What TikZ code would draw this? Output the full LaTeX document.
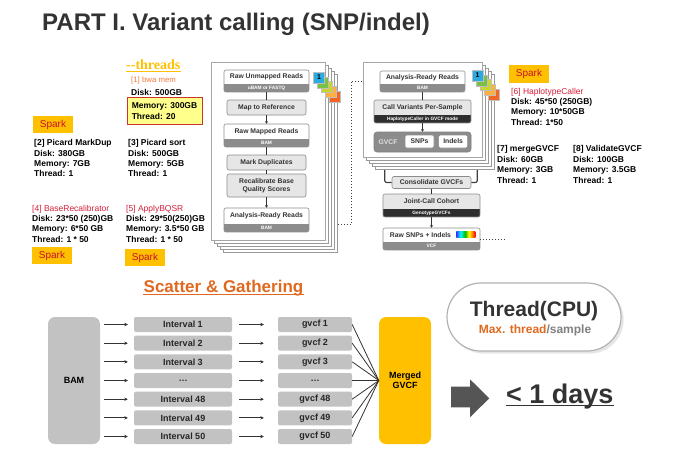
\documentclass[tikz,border=0pt]{standalone}
\usepackage{fontspec}
\setmainfont{Liberation Sans}
\newfontfamily\threadfont{Liberation Serif}
\usepackage{xcolor}
\usepackage{tikz}
\usetikzlibrary{arrows.meta,shapes,backgrounds,fit,positioning,shadows}

\definecolor{sparkbg}{HTML}{FFC000}
\definecolor{sparkred}{HTML}{C8102E}
\definecolor{titlegray}{HTML}{333333}
\definecolor{bwaorange}{HTML}{F4793B}
\definecolor{hdred}{HTML}{D41F3A}
\definecolor{memyellow}{HTML}{FFFF8C}
\definecolor{memred}{HTML}{C8382A}
\definecolor{boxgray}{HTML}{E6E6E6}
\definecolor{bandgray}{HTML}{8C8C8C}
\definecolor{banddark}{HTML}{2E2E2E}
\definecolor{rowgray}{HTML}{C2C2C2}
\definecolor{scatterorange}{HTML}{E0691F}
\definecolor{arrowgray}{HTML}{555555}
\definecolor{badgeblue}{HTML}{29ABE2}
\definecolor{badgegreen}{HTML}{7AC143}
\definecolor{badgelime}{HTML}{C9D42E}
\definecolor{badgeyellow}{HTML}{FBB040}
\definecolor{badgeorange}{HTML}{F26522}

\newcommand{\fsz}[2]{\fontsize{#1}{#2}\selectfont}

\pgfdeclarehorizontalshading{rainbow}{100bp}{color(0bp)=(blue); color(25bp)=(blue!80); color(36bp)=(cyan); color(48bp)=(green!70!black); color(58bp)=(yellow); color(67bp)=(orange); color(75bp)=(red); color(100bp)=(red)}

% box with a title on top and a coloured band below
\newcommand{\readsbox}[8][white]{%
  \node[flow, fill=#1, minimum width=#4, minimum height=#5,
        path picture={\fill[#8, sharp corners] (path picture bounding box.south west)
          rectangle ([yshift=8pt]path picture bounding box.south east);}] (#2) at (#3) {};
  \node[flowtext, anchor=north, minimum height={#5-8}] (#2-t) at (#2.north) {#6};
  \node[bandtext] (#2-b) at ([yshift=4pt]#2.south) {#7};
}

\begin{document}
\begin{tikzpicture}[x=1pt,y=-1pt]
	\tikzstyle{info}=[anchor=north west, inner sep=0, align=left, font=\bfseries\fsz{8.5}{10.3}]
	\tikzstyle{spark}=[fill=sparkbg, text=sparkred, font=\fsz{10}{12}, minimum width=40, minimum height=17, inner sep=0]
	\tikzstyle{page}=[draw=black!35, fill=white, line width=0.5pt, inner sep=0]
	\tikzstyle{pageback}=[draw=black!40, fill=white, line width=0.5pt]
	\tikzstyle{badge}=[draw=black!25, line width=0.3pt, minimum size=11, inner sep=0, font=\bfseries\fsz{7}{8}]
	\tikzstyle{flow}=[draw=black!45, line width=0.6pt, rounded corners=2pt, inner sep=0]
	\tikzstyle{flowtext}=[inner sep=0, text=black!80, font=\bfseries\fsz{6.8}{8}, align=center]
	\tikzstyle{flowgray}=[flow, fill=boxgray, text=black!80, font=\bfseries\fsz{6.8}{8}, align=center, minimum width=79]
	\tikzstyle{bandtext}=[inner sep=0, text=white, font=\bfseries\fsz{4.8}{5}]
	\tikzstyle{link}=[draw=black!80, line width=0.7pt]
	\tikzstyle{linkarrow}=[link, -{Stealth[length=2.5pt,width=3pt]}]
	\tikzstyle{dotline}=[draw=black!75, line width=0.9pt, dotted]
	\tikzstyle{bracket}=[draw=black!75, line width=1.2pt, rounded corners=2pt]
	\tikzstyle{row}=[fill=rowgray, rounded corners=2pt, minimum height=15, inner sep=0, font=\bfseries\fsz{9}{10}, text=black!85]
	\tikzstyle{bigbox}=[rounded corners=7pt, minimum width=52, minimum height=127, inner sep=0, font=\bfseries\fsz{9}{10.5}, align=center]
	\tikzstyle{rowarrow}=[draw=black!80, line width=0.9pt, -{Stealth[length=3.5pt,width=3.5pt]}]
	\tikzstyle{gather}=[draw=black!80, line width=0.8pt]

	\useasboundingbox (0,0) rectangle (692,458);

	\node[font=\bfseries\fsz{24}{28}, text=titlegray, anchor=base, inner sep=0] (title) at (236,30) {PART I. Variant calling (SNP/indel)};

	% resources per step
	\node[anchor=base west, inner sep=0, font=\threadfont\bfseries\fsz{14}{16}, text=sparkbg] (thr) at (126,69) {--threads};
	\draw[sparkbg, line width=1pt] ([yshift=-2.5pt]thr.base west) -- ([yshift=-2.5pt]thr.base east);
	\node[info, font=\fsz{7.8}{9}, text=bwaorange] (bwa) at (131,76.6) {[1] bwa mem};
	\node[info] (bwad) at (131,89.5) {Disk: 500GB};
	\node[info, anchor=center, draw=memred, line width=1pt, fill=memyellow, minimum width=75, minimum height=26.6, font=\bfseries\fsz{8.5}{10.6}] (mem1) at (164.5,111) {Memory: 300GB\\Thread: 20};

	\node[spark] (s2) at (53,124.5) {Spark};
	\node[info] (mdup) at (34,139.5) {[2] Picard MarkDup\\Disk: 380GB\\Memory: 7GB\\Thread: 1};
	\node[info] (sort) at (128,139.5) {[3] Picard sort\\Disk: 500GB\\Memory: 5GB\\Thread: 1};
	\node[info] (brc) at (32,204.8) {{\mdseries\color{hdred}[4] BaseRecalibrator}\\Disk: 23*50 (250)GB\\Memory: 6*50 GB\\Thread: 1 * 50};
	\node[info] (abq) at (126,204.8) {{\mdseries\color{hdred}[5] ApplyBQSR}\\Disk: 29*50(250)GB\\Memory: 3.5*50 GB\\Thread: 1 * 50};
	\node[spark] (s4) at (52,255.5) {Spark};
	\node[spark] (s5) at (145,257.5) {Spark};

	\node[spark, minimum height=18] (s6) at (529,74) {Spark};
	\node[info] (hc) at (511,87.8) {{\mdseries\color{hdred}[6] HaplotypeCaller}\\Disk: 45*50 (250GB)\\Memory: 10*50GB\\Thread: 1*50};
	\node[info, font=\bfseries\fsz{8.5}{10.5}] (mgv) at (497,145.5) {[7] mergeGVCF\\Disk: 60GB\\Memory: 3GB\\Thread: 1};
	\node[info, font=\bfseries\fsz{8.5}{10.5}] (vgv) at (573,145.5) {[8] ValidateGVCF\\Disk: 100GB\\Memory: 3.5GB\\Thread: 1};

	% pre-processing panel
	\foreach \o in {12,9,6,3}
		\draw[pageback] (211+\o,62+\o) rectangle (325+\o,240+\o);
	\node[page, minimum width=114, minimum height=178] (pgA) at (268,151) {};
	\foreach \o/\c in {16/badgeorange,12/badgeyellow,8/badgelime,4/badgegreen}
		\node[badge, fill=\c] (bA\o) at (319+\o,77.5+1.2*\o) {};
	\node[badge, fill=badgeblue] (bdgA) at (319,77.5) {1};

	\readsbox{rur}{266.5,81}{85}{22}{Raw Unmapped Reads}{uBAM or FASTQ}{bandgray}
	\node[flowgray, minimum height=15] (mtr) at (266.5,107.5) {Map to Reference};
	\readsbox{rmr}{266.5,135.5}{85}{23}{Raw Mapped Reads}{BAM}{bandgray}
	\node[flowgray, minimum height=15] (mdp) at (266.5,162.5) {Mark Duplicates};
	\node[flowgray, minimum height=23] (rbq) at (266.5,185.5) {Recalibrate Base\\Quality Scores};
	\readsbox{arr1}{266.5,220}{85}{24}{Analysis-Ready Reads}{BAM}{bandgray}

	\draw[link] (rur) -- (mtr);
	\draw[linkarrow] (mtr) -- (rmr);
	\draw[link] (rmr) -- (mdp);
	\draw[link] (mdp) -- (rbq);
	\draw[linkarrow] (rbq) -- (arr1);

	% variant discovery panel
	\foreach \o in {12,9,6,3}
		\draw[pageback] (363+\o,62+\o) rectangle (482+\o,157+\o);
	\node[page, minimum width=119, minimum height=95] (pgB) at (422.5,109.5) {};
	\foreach \o/\c in {16/badgeorange,12/badgeyellow,8/badgelime,4/badgegreen}
		\node[badge, fill=\c] (bB\o) at (477.5+\o,75.5+1.2*\o) {};
	\node[badge, fill=badgeblue] (bdgB) at (477.5,75.5) {1};

	\readsbox{arr2}{422.5,81.5}{85}{21}{Analysis-Ready Reads}{BAM}{bandgray}
	\readsbox[boxgray]{cvp}{422.5,111.5}{97}{23}{Call Variants Per-Sample}{HaplotypeCaller in GVCF mode}{banddark}
	\node[flow, fill=bandgray, draw=black!50, rounded corners=3pt, minimum width=97, minimum height=20] (gvg) at (422.5,142) {};
	\node[inner sep=0, text=white!88!black, font=\bfseries\fsz{6.8}{8}] (gvl) at (388,142) {GVCF};
	\node[flow, fill=white, minimum width=29, minimum height=13, font=\bfseries\fsz{6.8}{8}, text=black!80] (snp) at (419.5,141.5) {SNPs};
	\node[flow, fill=white, minimum width=29, minimum height=13, font=\bfseries\fsz{6.8}{8}, text=black!80, right=4pt of snp] (ind) {Indels};

	\draw[link] (arr2) -- (cvp);
	\draw[linkarrow] (cvp) -- (gvg);

	\node[flowgray, minimum height=12] (cgv) at (431.5,182.5) {Consolidate GVCFs};
	\readsbox[boxgray]{jcc}{431.5,205.5}{97}{23}{Joint-Call Cohort}{GenotypeGVCFs}{banddark}
	\readsbox{rsi}{431.5,239}{97}{22}{Raw SNPs + Indels\hspace{22pt}}{VCF}{bandgray}
	\shade[shading=rainbow] ([shift={(-24pt,-4pt)}]rsi.north east) rectangle ([shift={(-5pt,-10pt)}]rsi.north east);

	\draw[bracket] ([shift={(-7pt,12.5pt)}]cgv.west) |- (cgv.west);
	\draw[bracket] ([shift={(6pt,12.5pt)}]cgv.east) |- (cgv.east);
	\draw[link] (cgv) -- (jcc);
	\draw[linkarrow] (jcc) -- (rsi);

	\draw[dotline] ([shift={(29pt,-4pt)}]arr1.east) -- ++(13,0) |- ([xshift=-18pt]arr2.west);
	\draw[dotline] (rsi.east) -- ++(25,0);

	% scatter and gather
	\node[font=\bfseries\fsz{17}{20}, text=scatterorange, anchor=base, inner sep=0] (sg) at (223.5,292.5) {Scatter \& Gathering};
	\draw[scatterorange, line width=1pt] ([yshift=-2pt]sg.base west) -- ([yshift=-2pt]sg.base east);

	\node[bigbox, fill=rowgray] (bam) at (74,380.5) {BAM};
	\node[bigbox, fill=sparkbg] (mg) at (405,380.5) {Merged\\GVCF};

	\foreach \iv/\gv [count=\i] in {Interval 1/gvcf 1, Interval 2/gvcf 2, Interval 3/gvcf 3, {\dots}/{\dots}, Interval 48/gvcf 48, Interval 49/gvcf 49, Interval 50/gvcf 50} {
		\node[row, minimum width=98] (iv\i) at (183,{305.83+18.67*\i}) {\iv};
		\node[row, minimum width=74] (gv\i) at (315,{305.83+18.67*\i}) {\gv};
		\draw[rowarrow] ([xshift=4pt]bam.east |- iv\i.west) -- ([xshift=-6pt]iv\i.west);
		\draw[rowarrow] ([xshift=7pt]iv\i.east) -- ([xshift=-14pt]gv\i.west);
		\draw[gather] (gv\i.east) -- (mg.west);
	}

	\node[draw=black!30, line width=1.2pt, fill=white, rounded corners=34pt, minimum width=174, minimum height=68, drop shadow={opacity=0.2}] (cpu) at (534,317) {};
	\node[anchor=base, inner sep=0, font=\bfseries\fsz{21}{24}, text=titlegray] (cpuT) at (534,316) {Thread(CPU)};
	\node[anchor=base, inner sep=0, font=\bfseries\fsz{12}{14}, text=scatterorange] (cpuS) at (535,333.3) {Max. thread{\color{gray}/sample}};

	\fill[arrowgray] (451,386.7) -- (470,386.7) -- (470,379.3) -- (489.3,398.3) -- (470,417.3) -- (470,407.3) -- (451,407.3) -- cycle;
	\node[anchor=base west, inner sep=0, font=\bfseries\fsz{27}{30}, text=titlegray] (days) at (506,403) {< 1 days};
	\draw[titlegray, line width=1.3pt] ([yshift=-2.5pt]days.base west) -- ([yshift=-2.5pt]days.base east);

\end{tikzpicture}
\end{document}
